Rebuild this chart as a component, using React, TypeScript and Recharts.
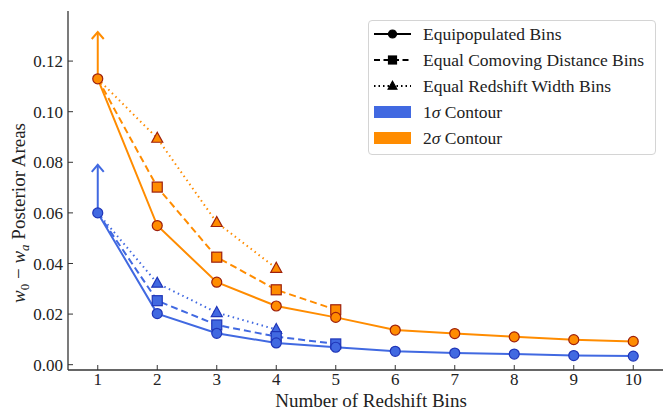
import React from "react";
import { LineChart, Line, XAxis, YAxis, Legend } from "recharts";

const bins = [1, 2, 3, 4, 5, 6, 7, 8, 9, 10];
const equipop1 = [0.06, 0.0202, 0.0124, 0.0086, 0.0069, 0.0053, 0.0046, 0.0042, 0.0036, 0.0034];
const equipop2 = [0.113, 0.055, 0.0326, 0.0232, 0.0187, 0.0137, 0.0123, 0.011, 0.0099, 0.0092];
const comoving1 = [0.06, 0.0253, 0.0157, 0.0111, 0.0082];
const comoving2 = [0.113, 0.0702, 0.0425, 0.0296, 0.0217];
const redshift1 = [0.06, 0.0322, 0.0206, 0.0139];
const redshift2 = [0.113, 0.0895, 0.0562, 0.0381];
// lower-limit arrows drawn at the first bin
const arrowTip1 = 0.079;
const arrowTip2 = 0.1315;

const xTicks = bins;
const yTicks = [0, 0.02, 0.04, 0.06, 0.08, 0.1, 0.12];

const BLUE = "#4169E1";
const ORANGE = "#FF8C00";
const BLUE_EDGE = "#1f35b8";
const ORANGE_EDGE = "#9e200c";
const AXIS = "#333333";
const FONT = "'Liberation Serif', 'Times New Roman', serif";

const rows = bins.map((b, i) => ({
  bin: b,
  e1: equipop1[i],
  e2: equipop2[i],
  c1: comoving1[i],
  c2: comoving2[i],
  r1: redshift1[i],
  r2: redshift2[i],
}));

const arrow1 = [
  { bin: bins[0], v: equipop1[0] },
  { bin: bins[0], v: arrowTip1 },
];
const arrow2 = [
  { bin: bins[0], v: equipop2[0] },
  { bin: bins[0], v: arrowTip2 },
];

type Shape = "circle" | "square" | "triangle";

function drawShape(shape: Shape, cx: number, cy: number, fill: string, edge: string, key?: string, size = 5) {
  if (shape === "circle") {
    return <circle key={key} cx={cx} cy={cy} r={size} fill={fill} stroke={edge} strokeWidth={1.2} />;
  }
  if (shape === "square") {
    return (
      <rect key={key} x={cx - size} y={cy - size} width={size * 2} height={size * 2} fill={fill} stroke={edge} strokeWidth={1.2} />
    );
  }
  return (
    <path
      key={key}
      d={`M${cx},${cy - size * 1.2} L${cx + size * 1.1},${cy + size * 0.8} L${cx - size * 1.1},${cy + size * 0.8} Z`}
      fill={fill}
      stroke={edge}
      strokeWidth={1.2}
    />
  );
}

const marker = (shape: Shape, fill: string, edge: string, skipFirst: boolean) => (props: any) => {
  const { cx, cy, index } = props;
  if ((skipFirst && index === 0) || cx == null || cy == null || props.value == null) {
    return <g key={`m-${index}`} />;
  }
  return drawShape(shape, cx, cy, fill, edge, `m-${index}`);
};

const arrowHead = (color: string) => (props: any) => {
  const { cx, cy, index } = props;
  if (index !== 1) return <g key={`a-${index}`} />;
  return (
    <path
      key={`a-${index}`}
      d={`M${cx - 6},${cy + 7} L${cx},${cy} L${cx + 6},${cy + 7}`}
      fill="none"
      stroke={color}
      strokeWidth={2}
    />
  );
};

const YLabel = () => (
  <text
    transform="translate(25,213) rotate(-90)"
    textAnchor="middle"
    style={{ fontFamily: FONT, fontSize: 19 }}
    fill="#222"
  >
    <tspan fontStyle="italic">w</tspan>
    <tspan fontSize={13} dy={4}>0</tspan>
    <tspan dy={-4}> − </tspan>
    <tspan fontStyle="italic">w</tspan>
    <tspan fontStyle="italic" fontSize={13} dy={4}>a</tspan>
    <tspan dy={-4}> Posterior Areas</tspan>
  </text>
);

const XLabel = () => (
  <text x={371} y={407} textAnchor="middle" style={{ fontFamily: FONT, fontSize: 19 }} fill="#222">
    Number of Redshift Bins
  </text>
);

const legendLines: { name: string; dash: string; shape: Shape; size: number }[] = [
  { name: "Equipopulated Bins", dash: "", shape: "circle", size: 4 },
  { name: "Equal Comoving Distance Bins", dash: "6 3.5", shape: "square", size: 4 },
  { name: "Equal Redshift Width Bins", dash: "1.5 3", shape: "triangle", size: 4 },
];
const legendPatches = [
  { level: "1", color: BLUE },
  { level: "2", color: ORANGE },
];

const LegendBox = () => (
  <div
    style={{
      boxSizing: "border-box",
      width: 288,
      height: 135,
      border: "1px solid #d4d4d4",
      borderRadius: 4,
      background: "rgba(255,255,255,0.85)",
      fontFamily: FONT,
      fontSize: 17.5,
      color: "#222",
    }}
  >
    {legendLines.map((l) => (
      <div key={l.name} style={{ display: "flex", alignItems: "center", height: 26, paddingLeft: 4 }}>
        <svg width={50} height={26}>
          <line x1={1} y1={13} x2={38} y2={13} stroke="#000" strokeWidth={2} strokeDasharray={l.dash} />
          {drawShape(l.shape, 19.5, 13, "#000", "#000", undefined, l.size)}
        </svg>
        <span style={{ whiteSpace: "nowrap" }}>{l.name}</span>
      </div>
    ))}
    {legendPatches.map((p) => (
      <div key={p.level} style={{ display: "flex", alignItems: "center", height: 26, paddingLeft: 4 }}>
        <svg width={50} height={26}>
          <rect x={1} y={7} width={37} height={12} fill={p.color} />
        </svg>
        <span style={{ whiteSpace: "nowrap" }}>
          {p.level}
          <i>σ</i> Contour
        </span>
      </div>
    ))}
  </div>
);

export default function App() {
  const tickStyle = { fill: "#222", fontSize: 17, fontFamily: FONT, style: { fontFamily: FONT } };
  return (
    <div style={{ position: "absolute", left: 0, top: 0, fontFamily: FONT }}>
      <LineChart
        width={664}
        height={412}
        data={rows}
        margin={{ top: 11, right: 1, left: 0, bottom: 0 }}
        style={{ fontFamily: FONT }}
      >
        <XAxis
          dataKey="bin"
          type="number"
          domain={[0.5, 10.5]}
          ticks={xTicks}
          interval={0}
          allowDataOverflow
          height={42}
          tickSize={-5}
          tickMargin={8}
          tick={tickStyle}
          axisLine={{ stroke: AXIS, strokeWidth: 1.3 }}
          tickLine={{ stroke: AXIS }}
          label={<XLabel />}
        />
        <XAxis
          xAxisId="top"
          orientation="top"
          dataKey="bin"
          type="number"
          domain={[0.5, 10.5]}
          ticks={xTicks}
          interval={0}
          allowDataOverflow
          height={0}
          tickSize={-5}
          tick={false}
          axisLine={{ stroke: AXIS, strokeWidth: 1.3 }}
          tickLine={{ stroke: AXIS }}
        />
        <YAxis
          type="number"
          domain={[-0.0021, 0.1398]}
          ticks={yTicks}
          interval={0}
          allowDataOverflow
          width={68}
          tickSize={-5}
          tickMargin={10}
          tick={tickStyle}
          tickFormatter={(v: number) => v.toFixed(2)}
          axisLine={{ stroke: AXIS, strokeWidth: 1.3 }}
          tickLine={{ stroke: AXIS }}
          label={<YLabel />}
        />
        <YAxis
          yAxisId="right"
          orientation="right"
          type="number"
          domain={[-0.0021, 0.1398]}
          ticks={yTicks}
          interval={0}
          allowDataOverflow
          width={0}
          tickSize={-5}
          tick={false}
          axisLine={{ stroke: AXIS, strokeWidth: 1.3 }}
          tickLine={{ stroke: AXIS }}
        />
        <Legend
          layout="vertical"
          align="center"
          verticalAlign="middle"
          content={() => <LegendBox />}
          wrapperStyle={{ left: 368, top: 20, width: 288, height: 135 }}
        />

        <Line data={arrow1} dataKey="v" stroke={BLUE} strokeWidth={2} dot={arrowHead(BLUE)} isAnimationActive={false} legendType="none" />
        <Line data={arrow2} dataKey="v" stroke={ORANGE} strokeWidth={2} dot={arrowHead(ORANGE)} isAnimationActive={false} legendType="none" />

        <Line dataKey="r1" stroke={BLUE} strokeWidth={2} strokeDasharray="1.5 3.5" dot={marker("triangle", BLUE, BLUE_EDGE, true)} isAnimationActive={false} />
        <Line dataKey="c1" stroke={BLUE} strokeWidth={2} strokeDasharray="7 4" dot={marker("square", BLUE, BLUE_EDGE, true)} isAnimationActive={false} />
        <Line dataKey="e1" stroke={BLUE} strokeWidth={2} dot={marker("circle", BLUE, BLUE_EDGE, false)} isAnimationActive={false} />

        <Line dataKey="r2" stroke={ORANGE} strokeWidth={2} strokeDasharray="1.5 3.5" dot={marker("triangle", ORANGE, ORANGE_EDGE, true)} isAnimationActive={false} />
        <Line dataKey="c2" stroke={ORANGE} strokeWidth={2} strokeDasharray="7 4" dot={marker("square", ORANGE, ORANGE_EDGE, true)} isAnimationActive={false} />
        <Line dataKey="e2" stroke={ORANGE} strokeWidth={2} dot={marker("circle", ORANGE, ORANGE_EDGE, false)} isAnimationActive={false} />
      </LineChart>
    </div>
  );
}
